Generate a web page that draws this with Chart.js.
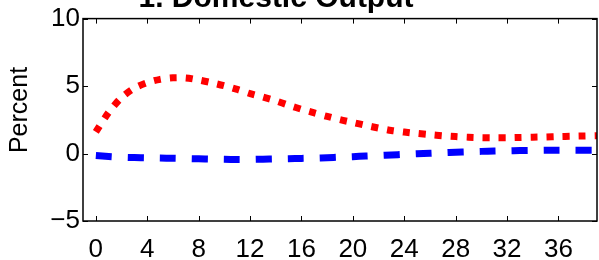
<!DOCTYPE html>
<html>
<head>
<meta charset="utf-8">
<script src="https://cdn.jsdelivr.net/npm/chart.js@4"></script>
<style>
  html, body { margin: 0; padding: 0; background: #fff; }
  #wrap { width: 599px; height: 260px; }
</style>
</head>
<body>
<div id="wrap"><canvas id="outputChart" width="599" height="260"></canvas></div>
<script>
'use strict'
const periods = [0,1,2,3,4,5,6,7,8,9,10,11,12,13,14,15,16,17,18,19,20,21,22,23,24,25,26,27,28,29,30,31,32,33,34,35,36,37,38,39];
const redSeries = [1.6, 3.05, 4.15, 4.85, 5.25, 5.5, 5.61, 5.6, 5.45, 5.25, 5.02, 4.75, 4.44, 4.18, 3.9, 3.58, 3.28, 3.01, 2.75, 2.51,
  2.3, 2.09, 1.89, 1.71, 1.59, 1.49, 1.4, 1.32, 1.26, 1.21, 1.18, 1.17, 1.17, 1.19, 1.21, 1.23, 1.26, 1.28, 1.3, 1.32];
const blueSeries = [-0.15, -0.22, -0.27, -0.3, -0.32, -0.34, -0.35, -0.37, -0.39, -0.41, -0.43, -0.44, -0.44, -0.42, -0.4, -0.38, -0.36, -0.34, -0.31, -0.27,
  -0.23, -0.19, -0.15, -0.11, -0.06, -0.02, 0.02, 0.06, 0.1, 0.13, 0.16, 0.18, 0.2, 0.22, 0.23, 0.24, 0.25, 0.25, 0.25, 0.25];
const xTicks = [0, 4, 8, 12, 16, 20, 24, 28, 32, 36];
const yTicks = [-5, 0, 5, 10];
const chartTitle = '1. Domestic Output';
const yLabel = 'Percent';

const FONT = '"Liberation Sans", Arial, Helvetica, sans-serif';

// box with inward ticks on all four sides, plus title and y label
const framePlugin = {
  id: 'frame',
  afterDatasetsDraw(chart) {
    const ctx = chart.ctx;
    const a = chart.chartArea;
    const sx = chart.scales.x, sy = chart.scales.y;
    const len = 5;
    ctx.save();
    ctx.strokeStyle = '#000';
    ctx.lineWidth = 1.5;
    ctx.strokeRect(a.left, a.top, a.right - a.left, a.bottom - a.top);
    ctx.lineWidth = 1;
    ctx.beginPath();
    xTicks.forEach(v => {
      const px = Math.round(sx.getPixelForValue(v)) + 0.5;
      ctx.moveTo(px, a.bottom); ctx.lineTo(px, a.bottom - len);
      ctx.moveTo(px, a.top); ctx.lineTo(px, a.top + len);
    });
    yTicks.forEach(v => {
      const py = Math.round(sy.getPixelForValue(v)) + 0.5;
      ctx.moveTo(a.left, py); ctx.lineTo(a.left + len, py);
      ctx.moveTo(a.right, py); ctx.lineTo(a.right - len, py);
    });
    ctx.stroke();

    ctx.fillStyle = '#000';
    ctx.font = 'bold 30px ' + FONT;
    ctx.textAlign = 'center';
    ctx.textBaseline = 'alphabetic';
    ctx.fillText(chartTitle, 276, 7);

    ctx.font = '25px ' + FONT;
    ctx.translate(27, 110);
    ctx.rotate(-Math.PI / 2);
    ctx.fillText(yLabel, 0, 0);
    ctx.restore();
  }
};

const data = {
  datasets: [{
    label: 'red',
    data: periods.map((p, i) => ({ x: p, y: redSeries[i] })),
    borderColor: '#ff0000',
    borderWidth: 7,
    borderDash: [7, 9],
    borderCapStyle: 'butt',
    pointRadius: 0,
    tension: 0.3,
  }, {
    label: 'blue',
    data: periods.map((p, i) => ({ x: p, y: blueSeries[i] })),
    borderColor: '#0000ff',
    borderWidth: 7,
    borderDash: [16, 16],
    borderCapStyle: 'butt',
    pointRadius: 0,
    tension: 0.3,
  }],
};

const options = {
  responsive: false,
  animation: false,
  layout: { padding: { top: 15, right: 2, left: 0, bottom: 0 } },
  plugins: {
    legend: { display: false },
    tooltip: { enabled: false },
  },
  scales: {
    x: {
      type: 'linear',
      min: -1,
      max: 39,
      afterBuildTicks: s => { s.ticks = xTicks.map(v => ({ value: v })); },
      afterFit: s => { s.height = 39; },
      grid: { display: false, drawTicks: false },
      border: { display: false },
      ticks: {
        color: '#000',
        padding: 13,
        maxRotation: 0,
        font: { family: FONT, size: 26 },
      },
    },
    y: {
      type: 'linear',
      min: -5,
      max: 10,
      afterBuildTicks: s => { s.ticks = yTicks.map(v => ({ value: v })); },
      afterFit: s => { s.width = 83; },
      grid: { display: false, drawTicks: false },
      border: { display: false },
      ticks: {
        color: '#000',
        padding: 3,
        font: { family: FONT, size: 26 },
        callback: v => String(v).replace('-', '\u2212'),
      },
    },
  },
};

new Chart(document.getElementById('outputChart').getContext('2d'), {
  type: 'line',
  data: data,
  options: options,
  plugins: [framePlugin],
});
</script>
</body>
</html>
